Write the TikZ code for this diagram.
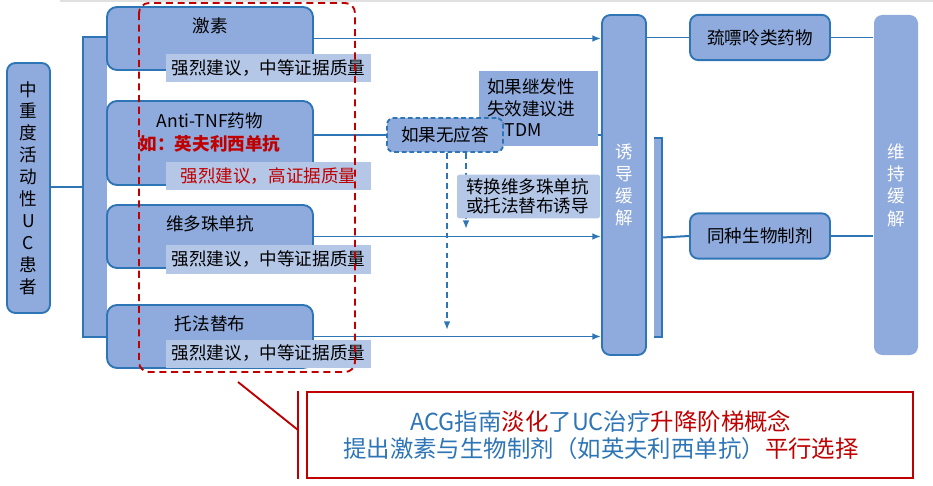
\documentclass[tikz,border=0pt]{standalone}
\usepackage{fontspec}
\setmainfont{Noto Sans CJK SC}
\usetikzlibrary{arrows.meta,backgrounds}
\definecolor{ublue}{HTML}{2E75B6}
\definecolor{ufill}{HTML}{8FAADC}
\definecolor{ulight}{HTML}{B4C7E7}
\definecolor{ured}{HTML}{C00000}
\begin{document}
\begin{tikzpicture}[x=0.03cm,y=-0.03cm,font=\fontsize{15pt}{18pt}\selectfont,
  conn/.style={draw=ublue,line width=1.7pt},
  arr/.style={conn,-{Latex[length=2.6mm,width=2mm]}},
  dasharr/.style={arr,dash pattern=on 5pt off 3.5pt},
  drugbox/.style={draw=ublue,line width=1.6pt,fill=ufill,rounded corners=0.3cm,minimum width=6.18cm,inner sep=0pt},
  grade/.style={fill=ulight,minimum width=6.15cm,minimum height=0.84cm,inner sep=0pt},
  stagebox/.style={draw=ublue,line width=1.6pt,fill=ufill,rounded corners=0.25cm,minimum width=1.32cm,minimum height=10.2cm,inner sep=0pt,align=center,text=white,font=\fontsize{15pt}{19pt}\selectfont},
  agentbox/.style={draw=ublue,line width=1.6pt,fill=ufill,rounded corners=0.25cm,minimum width=4.2cm,minimum height=1.36cm,inner sep=0pt}]
  \useasboundingbox (0,0) rectangle (933,486);
  \draw[black!12,line width=2pt] (60,1) -- (933,1);
  % patient and branching bar
  \node[draw=ublue,line width=1.6pt,fill=ufill,rounded corners=0.25cm,minimum width=1.29cm,minimum height=7.5cm,inner sep=0pt,align=center,font=\fontsize{15pt}{18.7pt}\selectfont] (pat) at (28.5,188) {中\\重\\度\\活\\动\\性\\U\\C\\患\\者};
  \node[fill=ufill,minimum width=0.72cm,minimum height=9cm,inner sep=0pt] (bar) at (95,187) {};
  \draw[conn] (bar.north east) -- (bar.north west) -- (bar.south west) -- (bar.south east);
  % induction drugs
  \foreach \n/\y/\t in {cort/38.5/激素,vedo/236.5/维多珠单抗,tofa/336.5/托法替布} {
    \node[drugbox,minimum height=1.89cm] (\n) at (210,\y) {};
    \node (\n-t) at ([yshift=-0.58cm]\n.north) {\t};
  }
  \node[drugbox,minimum height=2.52cm] (tnf) at (210,143) {};
  \node[align=center,font=\fontsize{15pt}{19.6pt}\selectfont] (tnf-t) at (210,132.5) {Anti-TNF药物\\\textcolor{ured}{\bfseries 如：英夫利西单抗}};
  \foreach \n/\y/\c/\t in {cort/68/black/{强烈建议，中等证据质量},tnf/176/ured/{强烈建议，高证据质量},vedo/259.5/black/{强烈建议，中等证据质量},tofa/353.5/black/{强烈建议，中等证据质量}} {
    \node[grade,text=\c] (\n-g) at (268.5,\y) {\t};
  }
  % remission stages
  \node[stagebox] (induct) at (624,185) {诱\\导\\缓\\解};
  \node[stagebox,draw=none] (maint) at (896,185) {维\\持\\缓\\解};
  \node[agentbox] (thio) at (760,37.5) {巯嘌呤类药物};
  \node[agentbox] (same) at (760,236) {同种生物制剂};
  \node[fill=ufill,minimum width=0.24cm,minimum height=5.97cm,inner sep=0pt] (rbr) at (658,237.5) {};
  \draw[conn] (rbr.north west) -- (rbr.north east) -- (rbr.south east) -- (rbr.south west);
  % notes on failure
  \node[fill=ufill,text width=3.09cm,inner xsep=0.24cm,minimum height=2.25cm,align=left,font=\fontsize{15pt}{18.4pt}\selectfont] (tdm) at (538.5,108.5) {如果继发性\\失效建议进\\行TDM};
  \node[draw=ublue,line width=1.6pt,dash pattern=on 4pt off 2.5pt,fill=ufill,rounded corners=0.2cm,minimum width=3.48cm,minimum height=1.02cm,inner sep=0pt] (noresp) at (445,135) {如果无应答};
  \node[fill=ulight,rounded corners=2pt,text width=3.75cm,inner xsep=0.27cm,minimum height=1.05cm,align=left,font=\fontsize{15pt}{16.5pt}\selectfont] (switch) at (528.5,196.5) {转换维多珠单抗\\或托法替布诱导};
  \coordinate (vedoend) at (466,229);
  \coordinate (tofaend) at (447,330);
  \begin{scope}[on background layer]
    \draw[conn] (pat.east |- bar.west) -- (bar.west);
    \draw[arr] (cort.east) -- (cort.east -| induct.west);
    \draw[conn] (tnf.east |- noresp.west) -- (noresp.west);
    \draw[conn] (noresp.east) -- (noresp.east -| induct.west);
    \draw[arr] (vedo.east) -- (vedo.east -| induct.west);
    \draw[arr] (tofa.east) -- (tofa.east -| induct.west);
    \draw[dasharr] (noresp.south -| vedoend) -- (vedoend);
    \draw[dasharr] (noresp.south -| tofaend) -- (tofaend);
    \draw[conn] (thio.west -| induct.east) -- (thio.west);
    \draw[conn] (rbr.east) -- (same.west);
    \draw[conn] (thio.east) -- (thio.east -| maint.west);
    \draw[conn] (same.east) -- (same.east -| maint.west);
  \end{scope}
  % highlight and comment
  \draw[ured,line width=1.6pt,dash pattern=on 6pt off 4pt,rounded corners=0.3cm] (139,3) rectangle (355,372);
  \node[draw=ured,line width=1.6pt,minimum width=18.18cm,minimum height=2.58cm] (note) at (610,435) {};
  \node[align=center,text=ublue,font=\fontsize{20pt}{23pt}\selectfont] (note-t) at (601,435.5) {ACG指南\textcolor{ured}{淡化}了UC治疗\textcolor{ured}{升降阶梯概念}\\提出激素与生物制剂（如英夫利西单抗）\textcolor{ured}{平行选择}};
  \coordinate (notetip) at (238,382);
  \draw[ured,line width=1.6pt] ([xshift=-0.24cm]note.north west) -- ([xshift=-0.24cm]note.south west);
  \draw[ured,line width=1.6pt] (notetip) -- ([xshift=-0.24cm,yshift=0.15cm]note.west);
\end{tikzpicture}
\end{document}
